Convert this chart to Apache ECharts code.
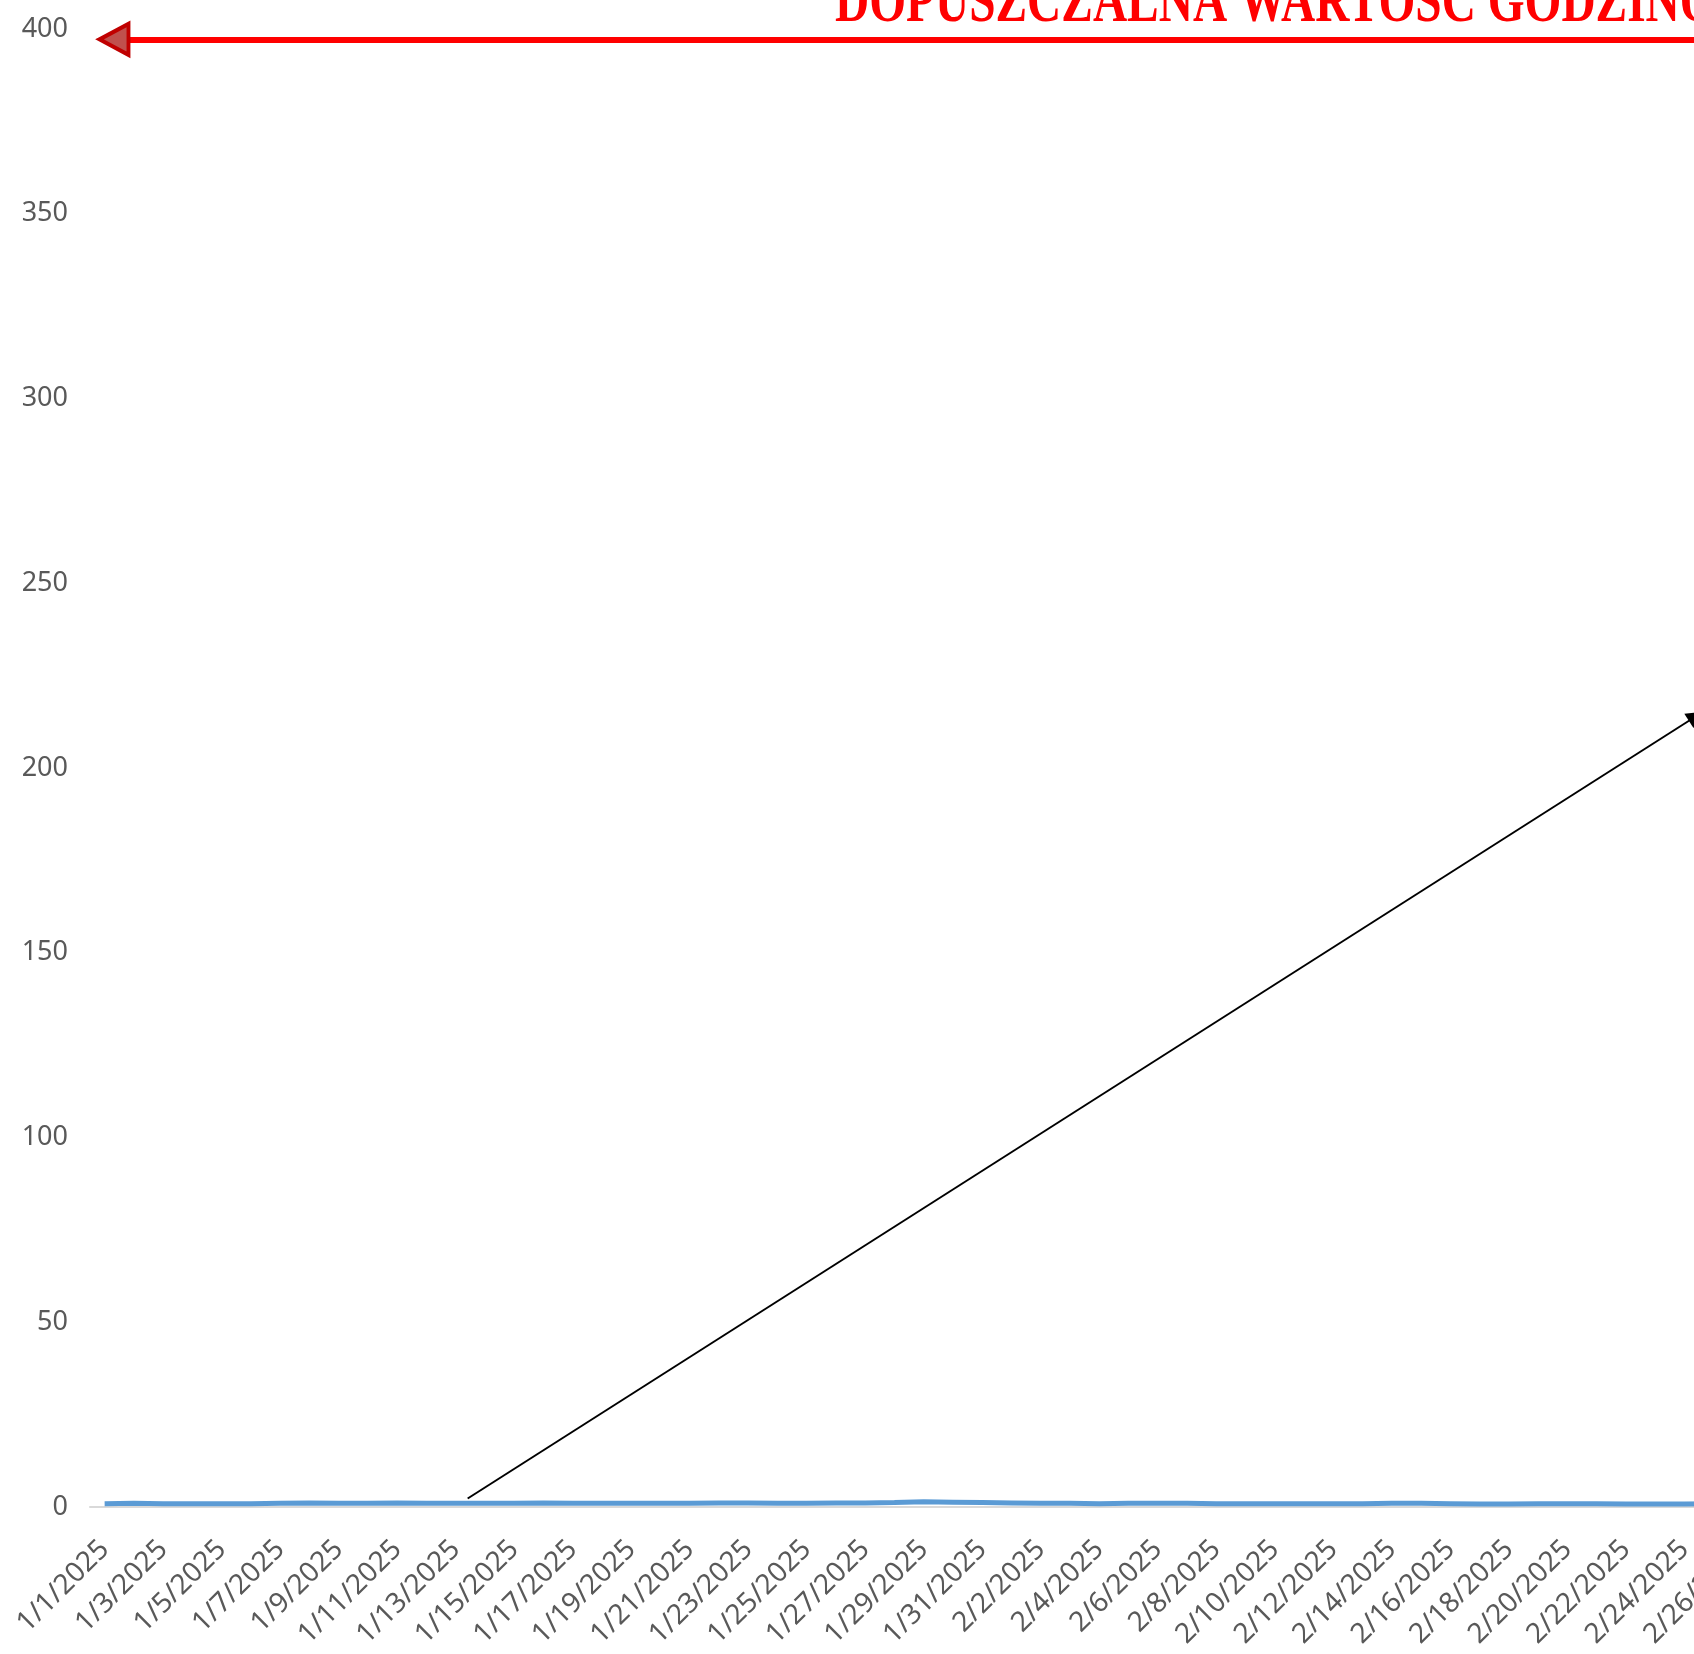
<!DOCTYPE html>
<html>
<head>
<meta charset="utf-8">
<title>Wartości godzinowe</title>
<script src="https://cdn.jsdelivr.net/npm/echarts@6/dist/echarts.min.js"></script>
<style>
  html, body { margin: 0; padding: 0; background: #fff; overflow: hidden; }
  #wrap { width: 1694px; height: 1654px; overflow: hidden; }
  #chart { height: 1654px; }
</style>
</head>
<body>
<div id="wrap"><div id="chart"></div></div>
<script>
// dates on the x axis (only the visible part of the sheet)
const dates = [];
for (let d = 1; d <= 31; d++) dates.push('1/' + d + '/2025');
for (let d = 1; d <= 28; d++) dates.push('2/' + d + '/2025');

const values = [
  0.9, 1.0, 0.9, 0.9, 0.9, 0.9, 1.0, 1.1, 1.0, 1.0, 1.1, 1.0, 1.0, 1.0, 1.0, 1.1,
  1.0, 1.0, 1.0, 1.0, 1.0, 1.1, 1.1, 1.0, 1.0, 1.1, 1.1, 1.2, 1.4, 1.3, 1.2,
  1.1, 1.0, 1.0, 0.9, 1.0, 1.0, 1.0, 0.9, 0.9, 0.9, 0.9, 0.9, 0.9, 1.0, 1.0,
  0.9, 0.8, 0.8, 0.9, 0.9, 0.9, 0.8, 0.8, 0.8, 0.9, 0.9, 0.9, 0.9
];

// y axis
const yMin = 0;
const yMax = 400;
const yStep = 50;

// annotations (in data units: x = day index, y = value)
const limitValue = 397;
const limitLabel = 'DOPUSZCZALNA WARTOŚĆ GODZINOWA';
const limitLine = [[0.3, limitValue], [80, limitValue]];
const limitHead = [0.32, 397.2];
const pointerLine = [[12.41, 2.3], [54.4, 214]];

const dayWidth = 29.25;
const gridLeft = 90;
// the sheet goes on to the right, so the chart is wider than the window
const chartWidth = Math.round(gridLeft + dates.length * dayWidth);
document.getElementById('chart').style.width = chartWidth + 'px';

const chart = echarts.init(document.getElementById('chart'));

chart.setOption({
  animation: false,
  backgroundColor: '#fff',
  grid: {
    left: gridLeft,
    right: 0,
    top: 29,
    bottom: 147,
    containLabel: false
  },
  xAxis: [
    {
      type: 'category',
      data: dates,
      boundaryGap: true,
      axisLine: { show: true, lineStyle: { color: '#D9D9D9', width: 2 } },
      axisTick: { show: false },
      axisLabel: {
        interval: 1,
        rotate: 45,
        margin: 38,
        color: '#595959',
        fontSize: 28,
        fontFamily: 'Noto Sans'
      },
      splitLine: { show: false }
    },
    {
      // helper axis so annotations can sit between days
      type: 'value',
      min: -0.5,
      max: dates.length - 0.5,
      show: false
    }
  ],
  yAxis: {
    type: 'value',
    min: yMin,
    max: yMax,
    interval: yStep,
    axisLine: { show: false },
    axisTick: { show: false },
    splitLine: { show: false },
    axisLabel: {
      margin: 22,
      color: '#595959',
      fontSize: 27,
      fontFamily: 'Noto Sans'
    }
  },
  graphic: [
    {
      type: 'text',
      x: 835,
      y: 4,
      scaleX: 0.74,
      z: 10,
      style: {
        text: limitLabel,
        fill: '#FF0000',
        font: 'bold 64px "Liberation Serif"',
        textAlign: 'left',
        verticalAlign: 'middle'
      }
    }
  ],
  series: [
    {
      name: 'pomiar',
      type: 'line',
      data: values,
      symbol: 'none',
      lineStyle: { color: '#5B9BD5', width: 5 },
      z: 3
    },
    {
      type: 'lines',
      coordinateSystem: 'cartesian2d',
      xAxisIndex: 1,
      yAxisIndex: 0,
      symbol: ['none', 'none'],
      lineStyle: { color: '#FF0000', width: 6, opacity: 1 },
      data: [{ coords: limitLine }],
      z: 4
    },
    {
      type: 'scatter',
      xAxisIndex: 1,
      yAxisIndex: 0,
      symbol: 'triangle',
      symbolRotate: 90,
      symbolSize: [31, 29],
      itemStyle: { color: '#C0504D', borderColor: '#C00000', borderWidth: 4, opacity: 1 },
      data: [limitHead],
      z: 5
    },
    {
      type: 'lines',
      coordinateSystem: 'cartesian2d',
      xAxisIndex: 1,
      yAxisIndex: 0,
      symbol: ['none', 'triangle'],
      symbolSize: [13, 17],
      lineStyle: { color: '#000000', width: 2, opacity: 1 },
      data: [{ coords: pointerLine }],
      z: 6
    }
  ]
});
</script>
</body>
</html>
